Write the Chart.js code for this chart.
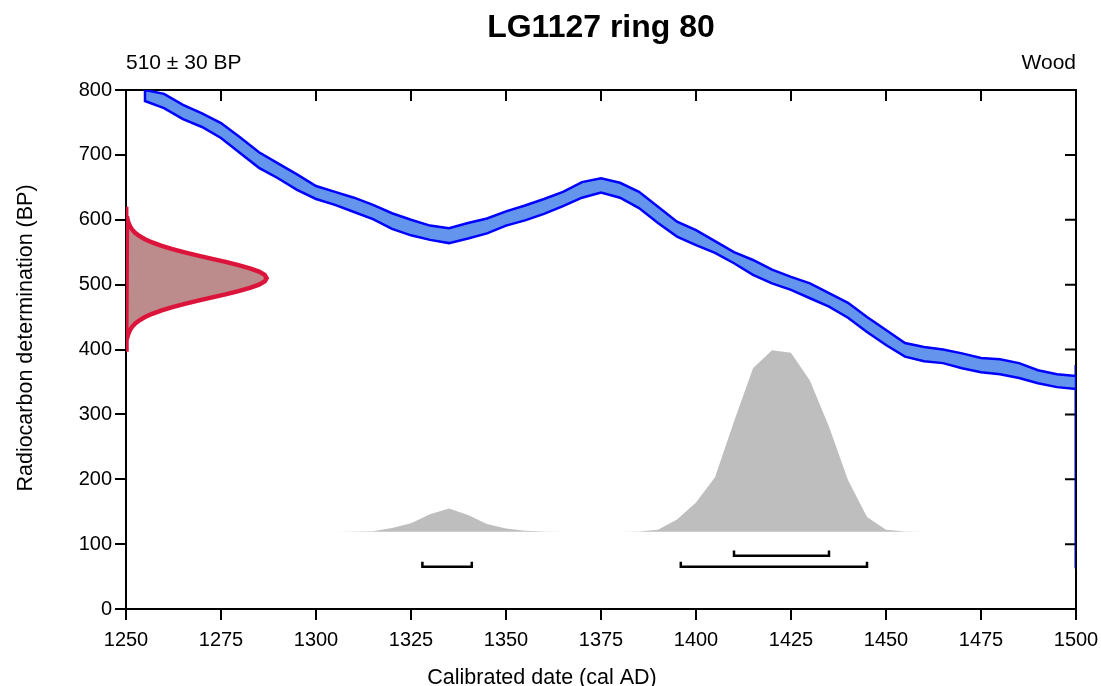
<!DOCTYPE html>
<html>
<head>
<meta charset="utf-8">
<title>LG1127 ring 80</title>
<script src="https://cdn.jsdelivr.net/npm/chart.js@4/dist/chart.umd.min.js"></script>
<style>
  body { margin: 0; background: #fff; }
  canvas { display: block; }
</style>
</head>
<body>
<canvas id="chart" width="1101" height="686"></canvas>
<script>
// calibration curve (IntCal band, BP), 5-year steps
const curveYears = [1255, 1260, 1265, 1270, 1275, 1280, 1285, 1290, 1295, 1300,
  1305, 1310, 1315, 1320, 1325, 1330, 1335, 1340, 1345, 1350,
  1355, 1360, 1365, 1370, 1375, 1380, 1385, 1390, 1395, 1400,
  1405, 1410, 1415, 1420, 1425, 1430, 1435, 1440, 1445, 1450,
  1455, 1460, 1465, 1470, 1475, 1480, 1485, 1490, 1495, 1500];
const curveUpper = [800, 794, 777, 764, 749, 727, 704, 687, 670, 652,
  643, 634, 623, 610, 600, 591, 587, 595, 602, 613,
  622, 632, 643, 658, 664, 657, 643, 620, 597, 584,
  567, 550, 538, 523, 512, 502, 487, 472, 450, 430,
  410, 404, 400, 394, 387, 385, 379, 368, 362, 359];
const curveLower = [783, 772, 755, 743, 726, 703, 680, 664, 646, 632,
  623, 612, 601, 586, 576, 569, 564, 571, 579, 591,
  599, 609, 621, 634, 642, 634, 618, 595, 574, 561,
  549, 533, 515, 502, 492, 479, 466, 449, 427, 407,
  389, 382, 379, 371, 365, 362, 356, 348, 342, 339];

// radiocarbon measurement 510 +/- 30 BP (width in years off the axis)
const rcBP = [400, 405, 410, 415, 420, 425, 430, 435, 440, 445, 450, 455, 460, 465, 470,
  475, 480, 485, 490, 495, 500, 505, 510, 515, 520, 525, 530, 535, 540, 545,
  550, 555, 560, 565, 570, 575, 580, 585, 590, 595, 600, 605, 610, 615, 620];
const rcWidth = [0.04, 0.08, 0.14, 0.25, 0.41, 0.67, 1.05, 1.62, 2.44, 3.54, 5.0, 6.9, 9.2, 12.0, 15.2,
  18.7, 22.4, 26.2, 29.6, 32.6, 35.0, 36.5, 37.0, 36.5, 35.0, 32.6, 29.6, 26.2, 22.4, 18.7,
  15.2, 12.0, 9.2, 6.9, 5.0, 3.5, 2.4, 1.6, 1.05, 0.67, 0.41, 0.25, 0.14, 0.08, 0.04];

// calibrated distribution (height above base, BP units)
const calBase = 119;
const calYears = [1300, 1305, 1310, 1315, 1320, 1325, 1330, 1335, 1340, 1345, 1350, 1355,
  1360, 1365, 1370, 1375, 1380, 1385, 1390, 1395, 1400, 1405, 1410, 1415,
  1420, 1425, 1430, 1435, 1440, 1445, 1450, 1455, 1460, 1465, 1470];
const calProb = [0, 0.2, 0.5, 1, 6, 13, 27, 36, 26, 12, 5, 1.5,
  0.5, 0.2, 0.1, 0.1, 0.2, 0.6, 3, 19, 45, 84, 170, 252,
  280, 276, 233, 162, 80, 23, 3, 0.6, 0.2, 0.1, 0];

// calibrated ranges
const range68 = [[1410, 1435]];
const range95 = [[1328, 1341], [1396, 1445]];
const level68 = 82;
const level95 = 65;
const bracketTick = 8;

const rightEdgeBP = [63, 376];

const xTicks = [1250, 1275, 1300, 1325, 1350, 1375, 1400, 1425, 1450, 1475, 1500];
const yTicks = [0, 100, 200, 300, 400, 500, 600, 700, 800];

const FONT = "'Liberation Sans', Arial, sans-serif";

// band polygon: upper forward, lower back
const bandPts = curveYears.map((x, i) => ({ x: x, y: curveUpper[i] }))
  .concat(curveYears.map((x, i) => ({ x: x, y: curveLower[i] })).reverse());
bandPts.push(bandPts[0]);

const rcPts = [{ x: 1250, y: rcBP[0] }]
  .concat(rcBP.map((b, i) => ({ x: 1250 + rcWidth[i], y: b })))
  .concat([{ x: 1250, y: rcBP[rcBP.length - 1] }, { x: 1250, y: rcBP[0] }]);

const calPts = calYears.map((x, i) => ({ x: x, y: calBase + calProb[i] }));

function bracket(r, lvl) {
  return {
    data: [
      { x: r[0], y: lvl + bracketTick }, { x: r[0], y: lvl },
      { x: r[1], y: lvl }, { x: r[1], y: lvl + bracketTick }
    ],
    borderColor: "#000",
    borderWidth: 2.5,
    fill: false,
    pointRadius: 0
  };
}

const datasets = [
  {
    data: rcPts,
    borderColor: "#DC143C",
    backgroundColor: "#BC8C8C",
    borderWidth: 4.5,
    fill: "shape",
    pointRadius: 0
  },
  {
    data: bandPts,
    borderColor: "#0000FF",
    backgroundColor: "#6495ED",
    borderWidth: 2.5,
    fill: "shape",
    pointRadius: 0
  },
  {
    data: rightEdgeBP.map((b) => ({ x: 1500, y: b })),
    borderColor: "#00008B",
    borderWidth: 3,
    fill: false,
    pointRadius: 0
  },
  ...range68.map((r) => bracket(r, level68)),
  ...range95.map((r) => bracket(r, level95)),
  {
    data: calPts,
    borderWidth: 0,
    borderColor: "rgba(0,0,0,0)",
    backgroundColor: "#BEBEBE",
    fill: { value: calBase },
    pointRadius: 0
  }
];

const framePlugin = {
  id: "frame",
  beforeDatasetsDraw(chart) {
    const { ctx, chartArea: a, scales } = chart;
    ctx.save();
    ctx.strokeStyle = "#000";
    ctx.lineWidth = 2;
    ctx.beginPath();
    ctx.moveTo(a.left, a.top);
    ctx.lineTo(a.right, a.top);
    ctx.lineTo(a.right, a.bottom);
    scales.x.ticks.forEach((t) => {
      const px = scales.x.getPixelForValue(t.value);
      ctx.moveTo(px, a.top);
      ctx.lineTo(px, a.top + 11);
    });
    scales.y.ticks.forEach((t) => {
      const py = scales.y.getPixelForValue(t.value);
      ctx.moveTo(a.right, py);
      ctx.lineTo(a.right - 11, py);
    });
    ctx.stroke();
    ctx.restore();
  },
  afterDraw(chart) {
    const { ctx, chartArea: a } = chart;
    ctx.save();
    ctx.fillStyle = "#000";
    ctx.textBaseline = "alphabetic";
    ctx.font = "bold 32px " + FONT;
    ctx.textAlign = "center";
    ctx.fillText("LG1127 ring 80", (a.left + a.right) / 2, 37);
    ctx.font = "21px " + FONT;
    ctx.textAlign = "left";
    ctx.fillText("510 \u00B1 30 BP", a.left, 69);
    ctx.textAlign = "right";
    ctx.fillText("Wood", a.right, 69);
    ctx.font = "21.5px " + FONT;
    ctx.textAlign = "center";
    ctx.fillText("Calibrated date (cal AD)", 542, 684);
    ctx.translate(32, 338);
    ctx.rotate(-Math.PI / 2);
    ctx.fillText("Radiocarbon determination (BP)", 0, 0);
    ctx.restore();
  }
};

new Chart(document.getElementById("chart"), {
  type: "line",
  data: { datasets: datasets },
  plugins: [framePlugin],
  options: {
    responsive: false,
    animation: false,
    devicePixelRatio: 1,
    layout: { padding: { top: 90, right: 25, left: 0, bottom: 0 } },
    plugins: {
      legend: { display: false },
      tooltip: { enabled: false },
      title: { display: false }
    },
    elements: { line: { tension: 0 } },
    scales: {
      x: {
        type: "linear",
        min: 1250,
        max: 1500,
        z: 1,
        afterBuildTicks: (s) => { s.ticks = xTicks.map((v) => ({ value: v })); },
        afterFit: (s) => { s.height = 77; s.paddingLeft = 0; s.paddingRight = 0; },
        ticks: { color: "#000", font: { family: FONT, size: 20 }, padding: 8, maxRotation: 0,
          callback: (v) => String(v) },
        grid: { drawOnChartArea: false, drawTicks: true, tickLength: 11, color: "#000", lineWidth: 2 },
        border: { display: true, color: "#000", width: 2 }
      },
      y: {
        type: "linear",
        min: 0,
        max: 800,
        z: 1,
        afterBuildTicks: (s) => { s.ticks = yTicks.map((v) => ({ value: v })); },
        afterFit: (s) => { s.width = 126; s.paddingTop = 0; s.paddingBottom = 0; },
        ticks: { color: "#000", font: { family: FONT, size: 20 }, padding: 3,
          callback: (v) => String(v) },
        grid: { drawOnChartArea: false, drawTicks: true, tickLength: 11, color: "#000", lineWidth: 2 },
        border: { display: true, color: "#000", width: 2 }
      }
    }
  }
});
</script>
</body>
</html>
